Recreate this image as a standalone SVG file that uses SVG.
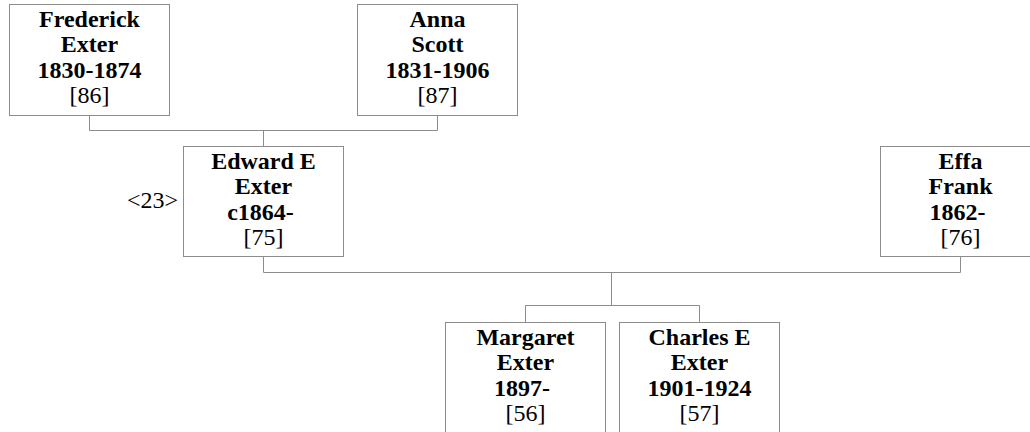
<svg xmlns="http://www.w3.org/2000/svg" width="1030" height="432" viewBox="0 0 1030 432">
<style>
  .box { fill: #ffffff; stroke: #8c8c8c; stroke-width: 1; }
  .conn { fill: none; stroke: #8c8c8c; stroke-width: 1; }
  .b { font-weight: bold; }
</style>
<rect x="0" y="0" width="1030" height="432" fill="#ffffff"/>
<g id="connectors">
  <polyline class="conn" points="89.5,115.5 89.5,130.5 437.5,130.5 437.5,115.5"/>
  <polyline class="conn" points="263.5,130.5 263.5,146.5"/>
  <polyline class="conn" points="263.5,256.5 263.5,272.5 960.5,272.5 960.5,256.5"/>
  <polyline class="conn" points="611.5,272.5 611.5,305.5"/>
  <polyline class="conn" points="525.5,322.5 525.5,305.5 699.5,305.5 699.5,322.5"/>
</g>
<g font-family="Liberation Serif, Times New Roman, serif" font-size="24" fill="#000000" text-anchor="middle">
<g id="frederick">
  <rect class="box" x="9.5" y="4.5" width="160" height="111"/>
  <text class="b" x="89.5" y="26.5">Frederick</text>
  <text class="b" x="89.5" y="52">Exter</text>
  <text class="b" x="89.5" y="77.5">1830-1874</text>
  <text x="89.5" y="103">[86]</text>
</g>
<g id="anna">
  <rect class="box" x="357.5" y="4.5" width="160" height="111"/>
  <text class="b" x="437.5" y="26.5">Anna</text>
  <text class="b" x="437.5" y="52">Scott</text>
  <text class="b" x="437.5" y="77.5">1831-1906</text>
  <text x="437.5" y="103">[87]</text>
</g>
<g id="edward">
  <rect class="box" x="183.5" y="146.5" width="160" height="110"/>
  <text class="b" x="263.5" y="168.5">Edward E</text>
  <text class="b" x="263.5" y="194">Exter</text>
  <text class="b" x="260.5" y="219.5">c1864-</text>
  <text x="263.5" y="245">[75]</text>
  <text x="178" y="208" text-anchor="end">&lt;23&gt;</text>
</g>
<g id="effa">
  <rect class="box" x="880.5" y="146.5" width="160" height="110"/>
  <text class="b" x="960.5" y="168.5">Effa</text>
  <text class="b" x="960.5" y="194">Frank</text>
  <text class="b" x="957.5" y="219.5">1862-</text>
  <text x="960.5" y="245">[76]</text>
</g>
<g id="margaret">
  <rect class="box" x="445.5" y="322.5" width="160" height="115"/>
  <text class="b" x="525.5" y="344.5">Margaret</text>
  <text class="b" x="525.5" y="370">Exter</text>
  <text class="b" x="522" y="395.5">1897-</text>
  <text x="525.5" y="421">[56]</text>
</g>
<g id="charles">
  <rect class="box" x="619.5" y="322.5" width="160" height="115"/>
  <text class="b" x="699.5" y="344.5">Charles E</text>
  <text class="b" x="699.5" y="370">Exter</text>
  <text class="b" x="699.5" y="395.5">1901-1924</text>
  <text x="699.5" y="421">[57]</text>
</g>
</g>
</svg>
